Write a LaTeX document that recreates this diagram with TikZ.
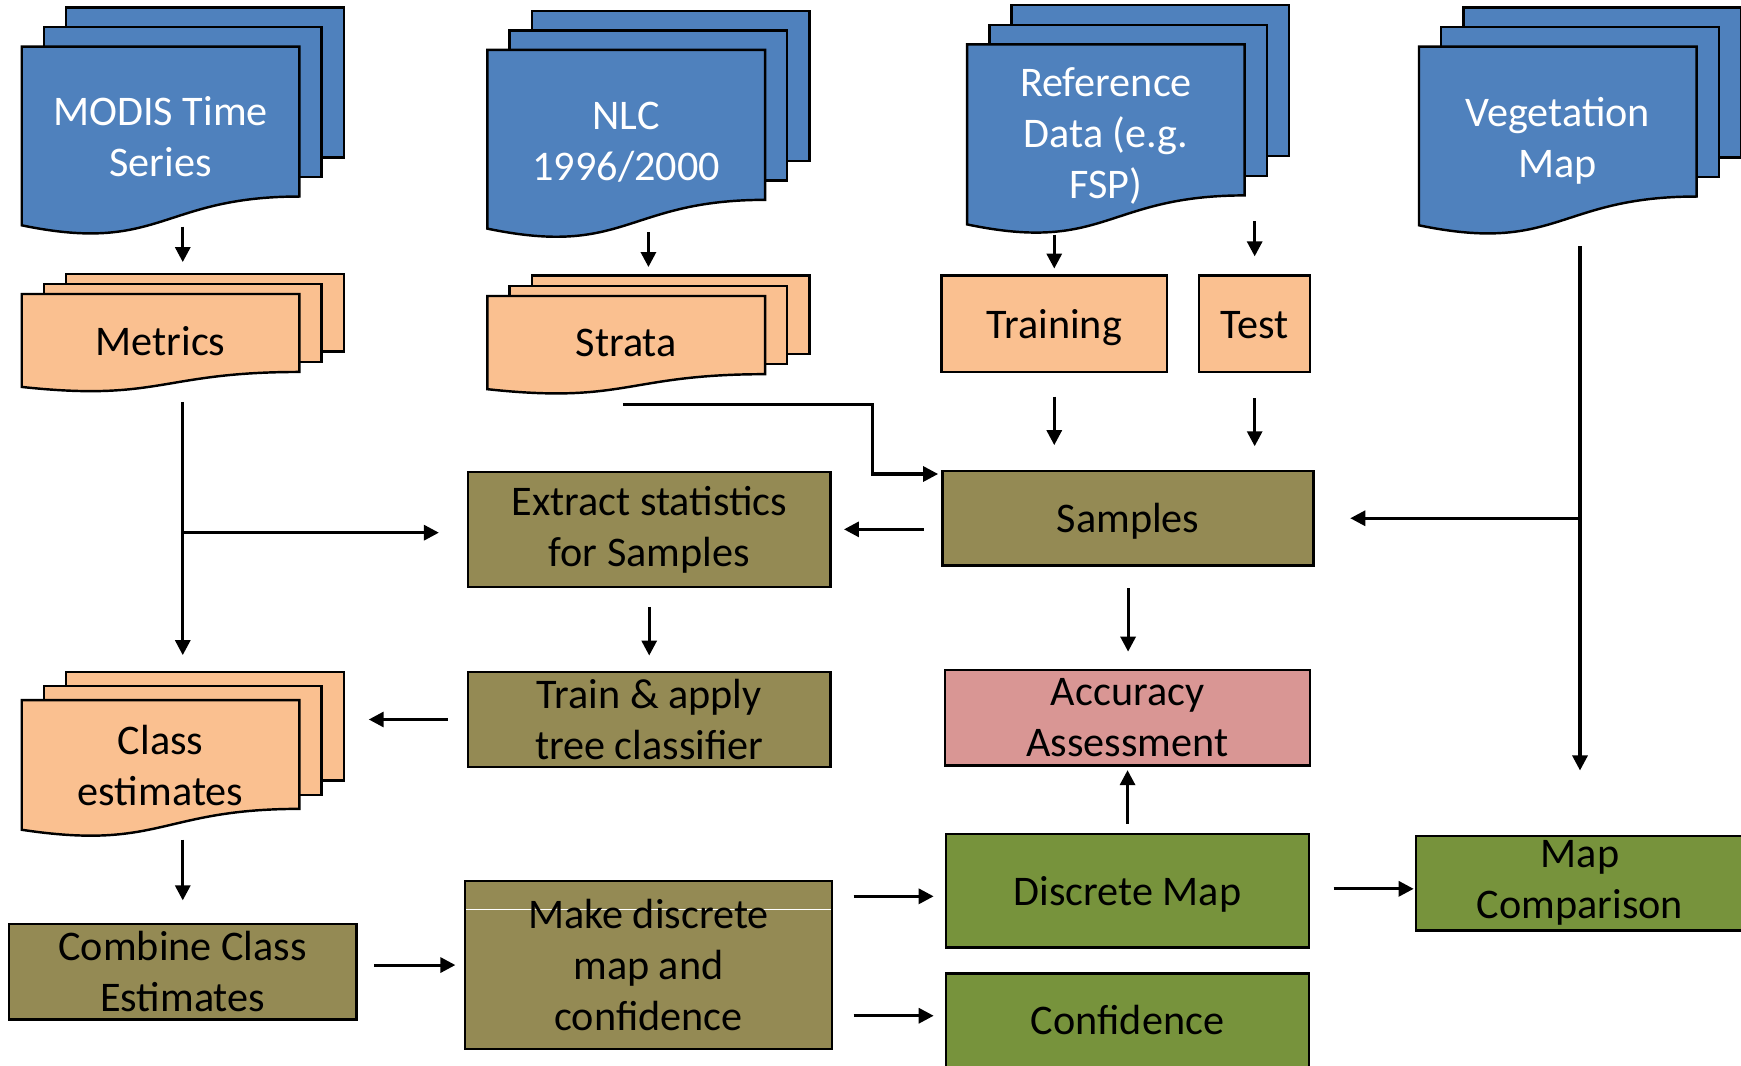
\documentclass[tikz,border=0pt]{standalone}
\usepackage{fontspec}
\setmainfont{Carlito}
\usetikzlibrary{arrows.meta}

\definecolor{docblue}{RGB}{79,129,189}
\definecolor{docpeach}{RGB}{250,192,144}
\definecolor{boxolive}{RGB}{148,138,84}
\definecolor{boxpink}{RGB}{217,150,148}
\definecolor{boxgreen}{RGB}{119,147,60}

% #1 name, #2 left, #3 top, #4 height, #5 fill, #6 text colour, #7 text y, #8 text
\newcommand{\docstack}[8]{%
  \pgfmathsetmacro{\stackdy}{0.13*#4}
  \draw[sheet,fill=#5] (#2+40,#3-2*\stackdy) rectangle (#2+290,#3-2*\stackdy+#4);
  \draw[sheet,fill=#5] (#2+20,#3-\stackdy) rectangle (#2+270,#3-\stackdy+#4);
  \draw[sheet,fill=#5] (#2,#3) -- (#2+250,#3) -- (#2+250,#3+#4)
    .. controls (#2+125,#3+#4) and (#2+125,#3+1.385*#4) .. (#2,#3+1.192*#4) -- cycle;
  \coordinate (#1-n) at (#2+145,#3-2*\stackdy);
  \coordinate (#1-s) at (#2+145,#3+1.2*#4);
  \coordinate (#1-e) at (#2+290,#3+0.6*#4);
  \node[doctext,text=#6] (#1) at (#2+125,#7) {#8};
}

\begin{document}
\begin{tikzpicture}[x=1pt,y=-1pt,
    >={Triangle[length=13.5pt,width=13.5pt]},
    sheet/.style={draw=black,line width=2.2pt},
    doctext/.style={align=center,inner sep=0pt,font=\fontsize{38}{46}\selectfont},
    box/.style={draw=black,line width=2.2pt,align=center,inner sep=0pt,
      font=\fontsize{38}{46}\selectfont},
    onebox/.style={box,text height=26pt,text depth=0pt},
    link/.style={->,line width=2.8pt}]
  \useasboundingbox (0,0) rectangle (1568,960);
  \clip (0,0) rectangle (1568,960);

  \docstack{modis}{19.6}{42}{135}{docblue}{white}{123.4}{MODIS Time\\Series}
  \docstack{nlc}{439}{45}{135}{docblue}{white}{128}{NLC\\1996/2000}
  \docstack{ref}{871}{40}{136}{docblue}{white}{122.2}{Reference\\Data (e.g.\\FSP)}
  \docstack{veg}{1278}{42}{135}{docblue}{white}{127}{Vegetation\\Map}
  \docstack{metrics}{19.6}{264.8}{70.2}{docpeach}{black}{307.5}{Metrics}
  \docstack{strata}{439}{266.6}{70.4}{docpeach}{black}{309}{Strata}
  \docstack{class}{19.6}{630.5}{98}{docpeach}{black}{689.7}{Class\\estimates}

  \node[onebox,fill=docpeach,minimum width=203pt,minimum height=87pt] (training) at (949.5,291.5) {Training};
  \node[onebox,fill=docpeach,minimum width=100pt,minimum height=87pt] (test) at (1130,291.5) {Test};
  \node[onebox,fill=boxolive,minimum width=334pt,minimum height=85.5pt] (samples) at (1016,466.75) {Samples};
  \node[box,fill=boxolive,minimum width=326.6pt,minimum height=103.5pt] (extract) at (584.7,476.75) {Extract statistics\\for Samples};
  \node[box,fill=boxolive,minimum width=326.6pt,minimum height=86pt] (tree) at (584.7,648) {Train \& apply\\tree classifier};
  \node[box,fill=boxpink,minimum width=329pt,minimum height=86pt] (accuracy) at (1015.5,646.5) {Accuracy\\Assessment};
  \node[box,fill=boxolive,minimum width=313pt,minimum height=86pt] (combine) at (164.5,875) {Combine Class\\Estimates};
  \node[box,fill=boxolive,minimum width=330.5pt,minimum height=151.3pt,
    path picture={\draw[white,line width=1pt]
      ([yshift=-26pt]path picture bounding box.north west) --
      ([yshift=-26pt]path picture bounding box.north east);}] (make) at (584,869.15) {Make discrete\\map and\\confidence};
  \node[onebox,fill=boxgreen,minimum width=327pt,minimum height=102.5pt] (discrete) at (1015.5,802.25) {Discrete Map};
  \node[onebox,fill=boxgreen,minimum width=327pt,minimum height=84.4pt] (confidence) at (1015.5,918.8) {Confidence};
  \node[box,fill=boxgreen,minimum width=295.4pt,minimum height=85pt] (mapcomp) at (1423,795.5) {Map\\Comparison};

  \draw[link,shorten >=10.5pt] (modis-s) -- (metrics-n);
  \draw[link,shorten <=2pt,shorten >=7.8pt] (nlc-s) -- (strata-n);
  \draw[link,shorten <=8pt,shorten >=5pt] (ref-s -| training.north) -- (training.north);
  \draw[link,shorten <=-4pt,shorten >=16pt] (ref-s -| test.north) -- (test.north);
  \draw[link,shorten <=21pt,shorten >=22pt] (training.south) -- (training.south |- samples.north);
  \draw[link,shorten <=22.5pt,shorten >=21pt] (test.south) -- (test.south |- samples.north);
  \draw[link,shorten >=3pt] ([xshift=-23pt,yshift=-13pt]strata-s) -| ([xshift=-62pt,yshift=-4pt]samples.north west) -- ([yshift=-4pt]samples.north west);
  \draw[link,shorten <=13pt,shorten >=15pt] (metrics-s) -- (class-n);
  \draw[link,shorten >=25pt] ([yshift=-3pt]metrics-s |- extract.west) -- ([yshift=-3pt]extract.west);
  \draw[link,shorten <=16pt,shorten >=11pt] (samples.west |- extract.east) -- (extract.east);
  \draw[link,shorten <=17pt,shorten >=13.5pt] (extract.south) -- (tree.north);
  \draw[link,shorten <=17pt,shorten >=22.5pt] (tree.west) -- (tree.west -| class-e);
  \draw[link,shorten <=8pt,shorten >=20pt] (class-s) -- (class-s |- combine.north);
  \draw[link,shorten <=15pt,shorten >=7.5pt] (make.west -| combine.east) -- (make.west);
  \draw[link,shorten <=18.5pt,shorten >=10pt] ([yshift=-5pt]discrete.west -| make.east) -- ([yshift=-5pt]discrete.west);
  \draw[link,shorten <=18.5pt,shorten >=10pt] ([yshift=4pt]confidence.west -| make.east) -- ([yshift=4pt]confidence.west);
  \draw[link,shorten <=19pt,shorten >=15.5pt] (samples.south) -- (samples.south |- accuracy.north);
  \draw[link,shorten <=8pt,shorten >=3pt] (discrete.north) -- (accuracy.south);
  \draw[link,shorten <=21pt,shorten >=1pt] ([yshift=-5pt]mapcomp.west -| discrete.east) -- ([yshift=-5pt]mapcomp.west);
  \draw[link,shorten <=18pt,shorten >=58pt] (veg-s) -- (mapcomp.north);
  \draw[link,shorten >=32pt] (veg-s |- samples.east) -- (samples.east);
\end{tikzpicture}
\end{document}
